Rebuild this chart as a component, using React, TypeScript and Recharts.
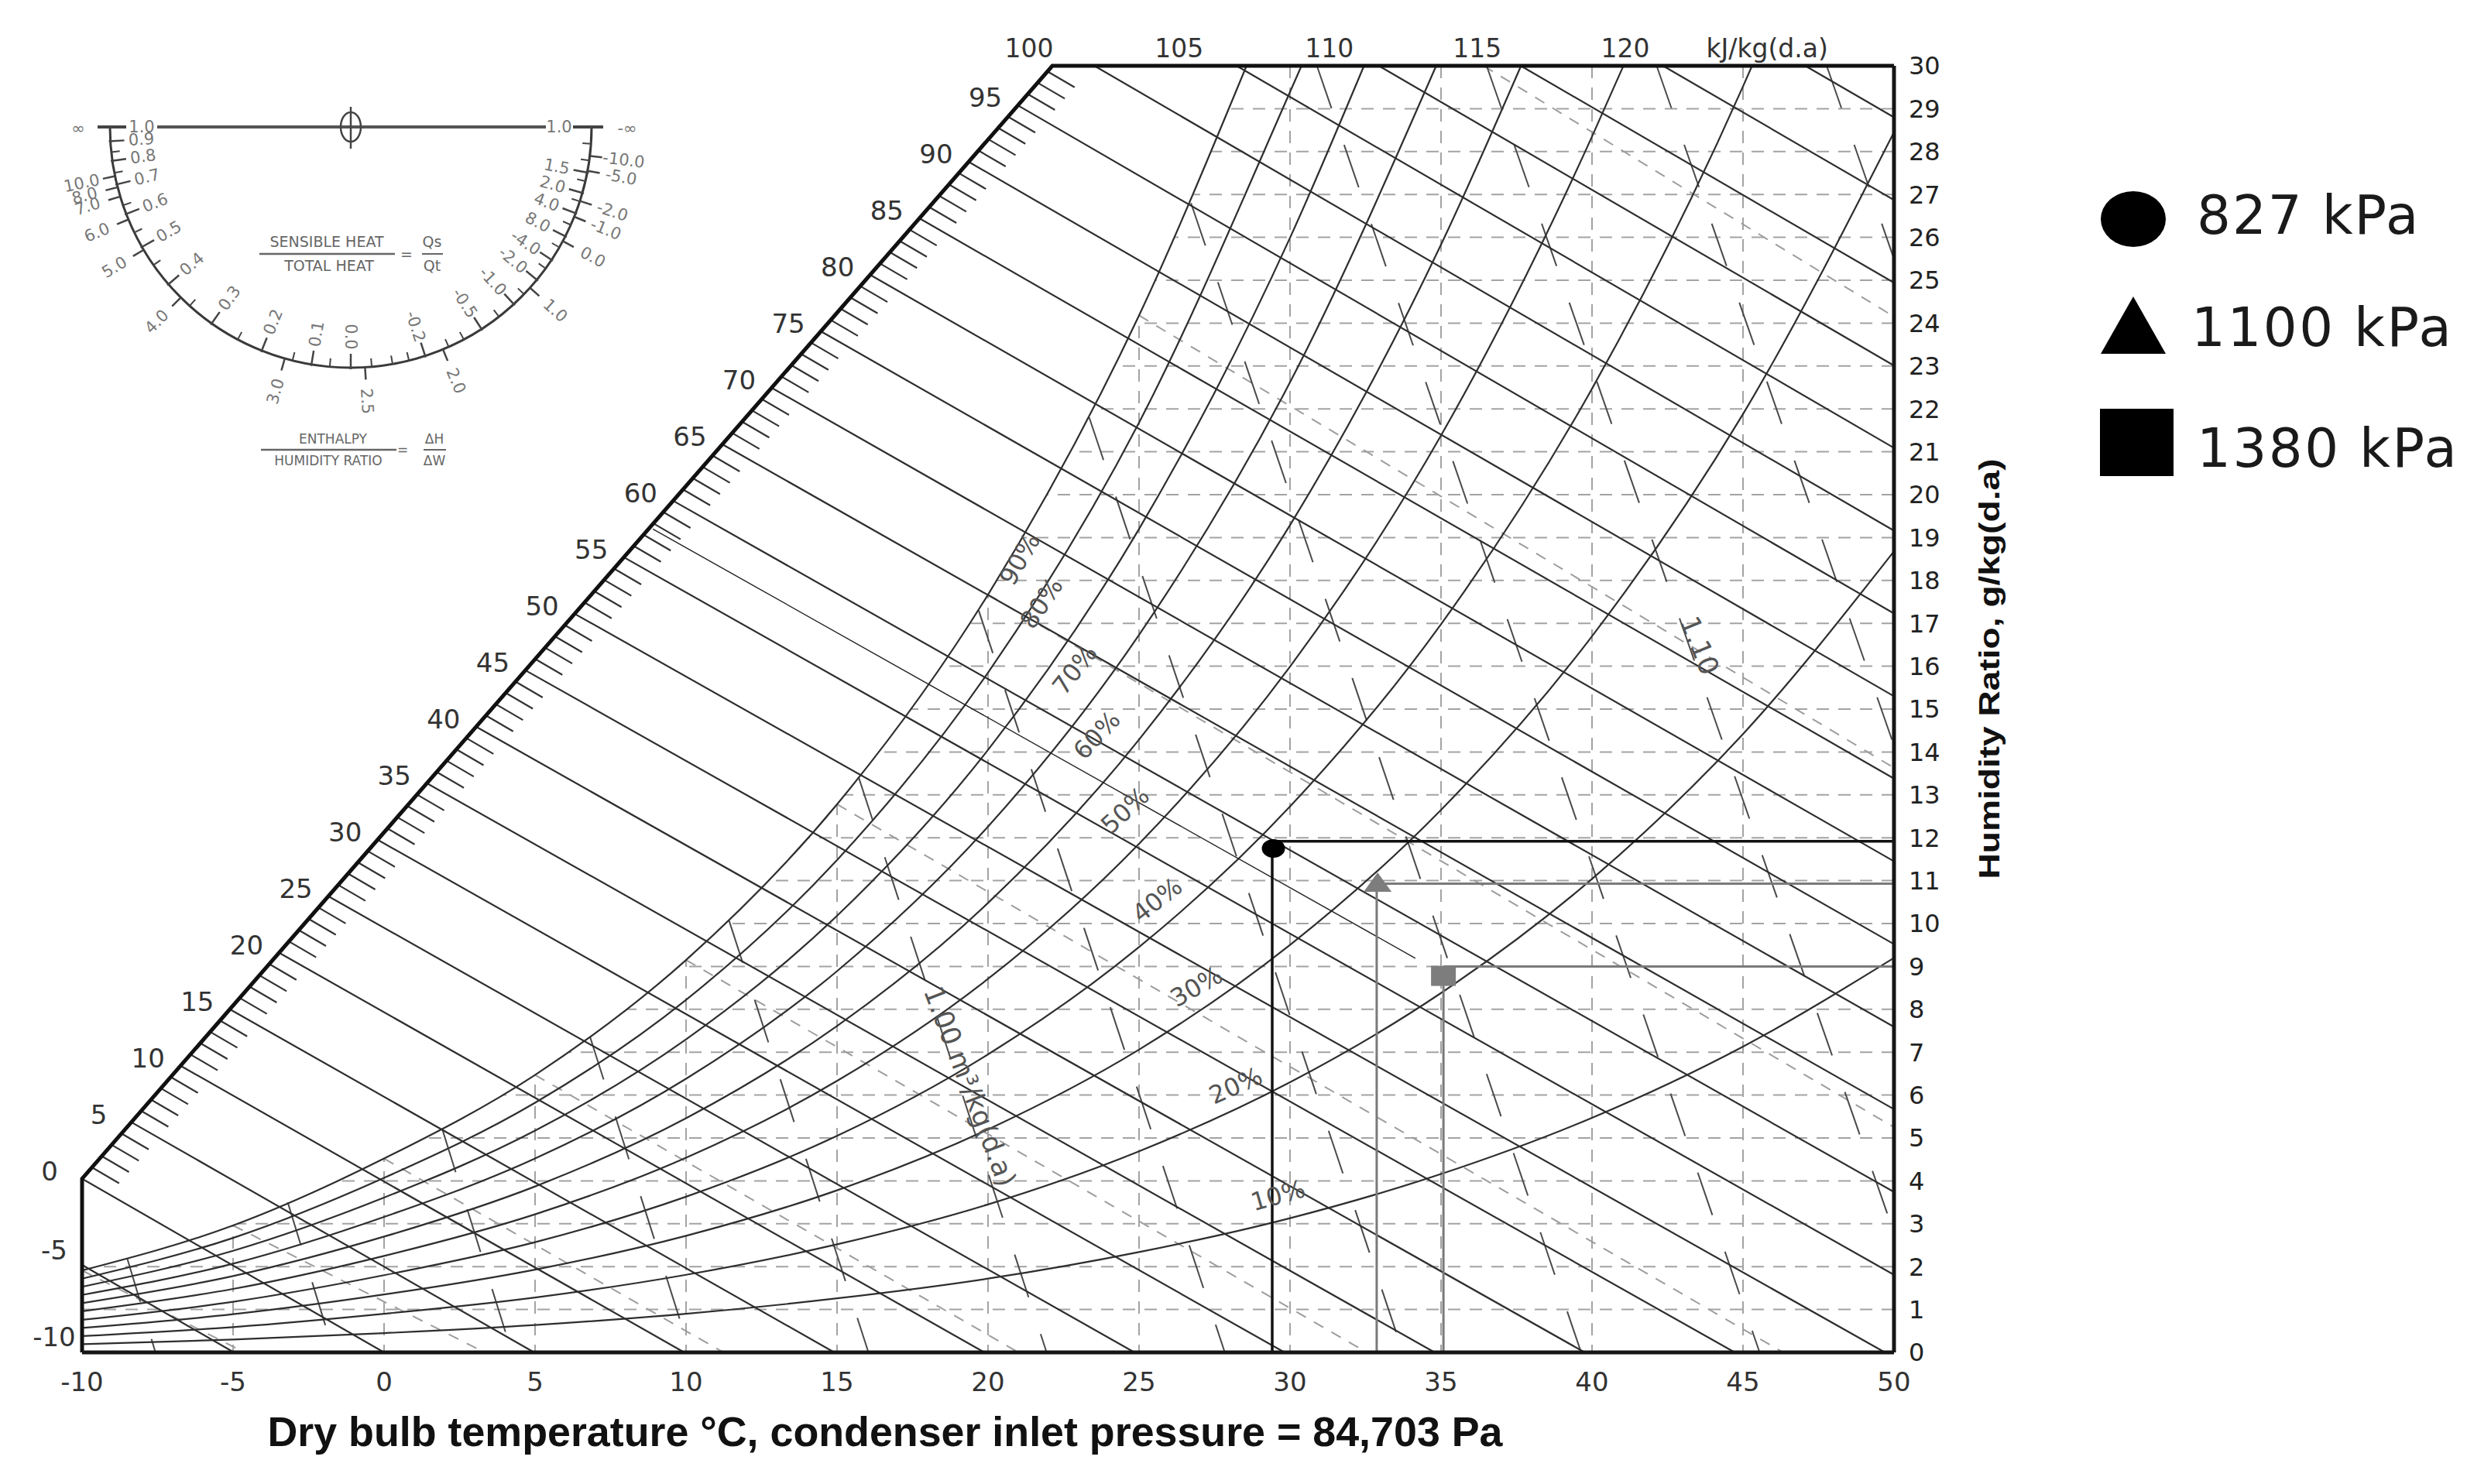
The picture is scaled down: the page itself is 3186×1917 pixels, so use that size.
import React from 'react';
import { ComposedChart, Line, Area, Scatter, XAxis, YAxis, CartesianGrid, Legend } from 'recharts';

type P = { t: number; w: number | null };

const FONT = "'DejaVu Sans', Verdana, sans-serif";
const TITLE_FONT = "'Liberation Sans Narrow', 'Liberation Sans', Arial, sans-serif";
const INK = '#2e2e2e';

// ---------- axes ----------
const xTicks = [-10, -5, 0, 5, 10, 15, 20, 25, 30, 35, 40, 45, 50];
const yTicks = [0, 1, 2, 3, 4, 5, 6, 7, 8, 9, 10, 11, 12, 13, 14, 15, 16, 17, 18, 19, 20, 21, 22, 23, 24, 25, 26, 27, 28, 29, 30];
const gridW = [1, 2, 3, 4, 5, 6, 7, 8, 9, 10, 11, 12, 13, 14, 15, 16, 17, 18, 19, 20, 21, 22, 23, 24, 25, 26, 27, 28, 29];
const gridT = [-5, 0, 5, 10, 15, 20, 25, 30, 35, 40, 45];

// ---------- relative humidity curves (g/kg at each dry-bulb temperature) ----------
const rhTemps = [-10, -5, 0, 5, 10, 15, 20, 25, 30, 35, 40, 45, 50];
const rh10 = [0.19, 0.30, 0.45, 0.64, 0.90, 1.26, 1.72, 2.34, 3.13, 4.16, 5.47, 7.13, 9.20];
const rh20 = [0.38, 0.59, 0.90, 1.28, 1.81, 2.52, 3.45, 4.69, 6.30, 8.38, 11.04, 14.42, 18.68];
const rh30 = [0.57, 0.89, 1.35, 1.93, 2.72, 3.78, 5.20, 7.06, 9.50, 12.65, 16.70, 21.88, 28.45];
const rh40 = [0.76, 1.18, 1.80, 2.57, 3.63, 5.05, 6.95, 9.45, 12.73, 16.98, 22.47, 29.52];
const rh50 = [0.96, 1.48, 2.25, 3.22, 4.54, 6.33, 8.71, 11.86, 15.99, 21.38, 28.35];
const rh60 = [1.15, 1.78, 2.70, 3.87, 5.46, 7.61, 10.48, 14.29, 19.29, 25.83];
const rh70 = [1.34, 2.07, 3.16, 4.52, 6.38, 8.89, 12.26, 16.73, 22.62];
const rh80 = [1.53, 2.37, 3.61, 5.17, 7.30, 10.18, 14.05, 19.20, 25.99];
const rh90 = [1.72, 2.67, 4.07, 5.82, 8.22, 11.48, 15.85, 21.68, 29.39];
const rh100 = [1.91, 2.96, 4.52, 6.47, 9.15, 12.78, 17.67, 24.18];
const rhSeries = [rh10, rh20, rh30, rh40, rh50, rh60, rh70, rh80, rh90, rh100];
const rhTopExitT = [null, null, null, 45.3, 41.04, 37.65, 34.84, 32.45, 30.38, 28.56];

const rhLabelText = ['10%', '20%', '30%', '40%', '50%', '60%', '70%', '80%', '90%'];
const rhLabelT = [29.6, 28.2, 26.9, 25.6, 24.54, 23.6, 22.87, 21.77, 21.05];
const rhLabelW = [3.66, 6.22, 8.53, 10.55, 12.64, 14.39, 15.92, 17.47, 18.5];
const rhLabelAngle = [-16, -24, -30, -38, -43, -47, -52, -56, -60];

// ---------- enthalpy lines (kJ/kg) ----------
const enthalpyLevels = [-5, 0, 5, 10, 15, 20, 25, 30, 35, 40, 45, 50, 55, 60, 65, 70, 75, 80, 85, 90, 95, 100, 105, 110, 115, 120, 125];
const enthalpyEndT = [-4.97, 0, 4.97, 9.94, 14.91, 19.88, 24.85, 29.82, 34.79, 39.76, 44.73, 49.7, 50, 50, 50, 50, 50, 50, 50, 50, 50, 50, 50, 50, 50, 50, 50];
const enthalpyEndW = [0, 0, 0, 0, 0, 0, 0, 0, 0, 0, 0, 0, 1.81, 3.74, 5.67, 7.59, 9.52, 11.45, 13.38, 15.3, 17.23, 19.16, 21.09, 23.01, 24.94, 26.87, 28.8];
const enthalpyTopStartT = [23.52, 28.23, 32.94, 37.64, 42.35, 47.06]; // h = 100..125 enter at 30 g/kg
const enthalpyLeftStartW = 2.04; // h = -5 on the -10 °C border
const diagFrom = { t: -10, w: 4.05, h: 0 };
const diagTo = { t: 22.13, w: 30, h: 98.5 };
const diagLabels = [0, 5, 10, 15, 20, 25, 30, 35, 40, 45, 50, 55, 60, 65, 70, 75, 80, 85, 90, 95];
const topLabelText = ['100', '105', '110', '115', '120', 'kJ/kg(d.a)'];
const topLabelT = [21.36, 26.33, 31.3, 36.2, 41.1, 45.8];
const leftLabelText = ['-5', '-10'];
const leftLabelW = [2.04, 0.02];
const thinLine = [{ t: 8.9, w: 19.2 }, { t: 34.15, w: 9.19 }];

// ---------- wet-bulb lines (dashed) ----------
const wbStartT = [-10, -5, 0, 5, 10, 15, 20, 25, 36.41];
const wbStartW = [1.91, 2.96, 4.52, 6.47, 9.15, 12.78, 17.67, 24.18, 30];
const wbEndT = [-4.62, 3.33, 11.24, 21.01, 32.54, 46.33, 50, 50, 50];
const wbEndW = [0, 0, 0, 0, 0, 0, 5.25, 13.63, 24.15];

// ---------- specific volume lines (m3/kg) ----------
const volStartT = [-8.5, -3.19, 1.93, 6.82, 11.42, 15.72, 19.69, 23.35, 26.72, 30.89, 36.51, 42.14, 47.77];
const volStartW = [2.18, 3.5, 5.2, 7.36, 10.08, 13.4, 17.3, 21.8, 26.8, 30, 30, 30, 30];
const volEndT = [-7.57, -1.67, 4.23, 10.14, 16.04, 21.94, 27.84, 33.74, 39.64, 45.55, 50, 50, 50];
const volEndW = [0, 0, 0, 0, 0, 0, 0, 0, 0, 0, 2.79, 14.15, 25.5];
const volLabelText = ['1.10', '1.00 m³/kg(d.a)'];
const volLabelT = [43.56, 19.4];
const volLabelW = [16.48, 6.2];
const volLabelAngle = [68, 69];

// ---------- operating points ----------
const pointLegend = ['827 kPa', '1100 kPa', '1380 kPa'];
const pointT = [29.45, 32.9, 35.08];
const pointW = [11.75, 10.94, 8.78];
const guideT = [29.41, 32.87, 35.08];
const guideW = [11.92, 10.93, 9.0];

// ---------- protractor ----------
const protInnerAngle = [176.6, 171.9, 166.2, 158.8, 150.1, 139.2, 125.3, 111.7, 99.4, 90, 72, 57.1, 47.4, 39.4, 33.5, 27, 21, 15.9, 10.9];
const protInnerText = ['0.9', '0.8', '0.7', '0.6', '0.5', '0.4', '0.3', '0.2', '0.1', '0.0', '-0.2', '-0.5', '-1.0', '-2.0', '-4.0', '8.0', '4.0', '2.0', '1.5'];
const protOuterAngle = [168.2, 165.5, 163.2, 157.4, 149.3, 134.9, 105.9, 86.6, 67.5, 41.9, 28.3, 21.9, 17.9, 10.5, 6.9];
const protOuterText = ['10.0', '8.0', '7.0', '6.0', '5.0', '4.0', '3.0', '2.5', '2.0', '1.0', '0.0', '-1.0', '-2.0', '-5.0', '-10.0'];
const protMinorAngle = [174, 169, 161, 154, 145, 132, 118, 104, 95, 85, 80, 76, 66, 62, 52, 44, 36, 30, 24, 18, 13, 8, 4];

// ---------- helpers ----------
const diagAt = (h: number): P => {
  const s = (h - diagFrom.h) / (diagTo.h - diagFrom.h);
  return { t: diagFrom.t + s * (diagTo.t - diagFrom.t), w: diagFrom.w + s * (diagTo.w - diagFrom.w) };
};
const broken = (segs: P[][]): P[] => {
  const out: P[] = [];
  segs.forEach((s) => {
    s.forEach((p) => out.push({ t: p.t, w: p.w }));
    out.push({ t: s[s.length - 1].t, w: null });
  });
  return out;
};

const rhData = rhSeries.map((vals, i) => {
  const pts: P[] = vals.map((w, j) => ({ t: rhTemps[j], w }));
  const ex = rhTopExitT[i];
  if (ex !== null) pts.push({ t: ex as number, w: 30 });
  return pts;
});
const maskData = rhData[9].map((p) => ({ t: p.t, band: [p.w, 30] }));

const enthalpyData = broken(
  enthalpyLevels.map((h, i) => {
    let start: P;
    if (h < 0) start = { t: -10, w: enthalpyLeftStartW };
    else if (h < 100) start = diagAt(h);
    else start = { t: enthalpyTopStartT[(h - 100) / 5], w: 30 };
    return [start, { t: enthalpyEndT[i], w: enthalpyEndW[i] }];
  })
);
const diagTickValues = Array.from({ length: 98 }, (_, i) => i + 1).filter((h) => h % 5 !== 0);
const tickDir = { t: 0.9, w: -0.37 };
const diagTickData = broken(
  diagTickValues.map((h) => {
    const p = diagAt(h);
    return [p, { t: p.t + tickDir.t, w: (p.w as number) + tickDir.w }];
  })
);
const frameData: P[] = [{ t: -10, w: 0 }, { t: -10, w: diagFrom.w }, { t: diagTo.t, w: 30 }, { t: 50, w: 30 }];
const wbData = broken(wbStartT.map((t, i) => [{ t, w: wbStartW[i] }, { t: wbEndT[i], w: wbEndW[i] }]));
const volData = broken(volStartT.map((t, i) => [{ t, w: volStartW[i] }, { t: volEndT[i], w: volEndW[i] }]));

const labelData: any[] = [
  ...diagLabels.map((h) => ({ ...diagAt(h), label: String(h), dx: -42, dy: -10, size: 34, fill: '#333' })),
  ...leftLabelText.map((l, i) => ({ t: -10, w: leftLabelW[i], label: l, dx: -36, dy: -19, size: 34, fill: '#333' })),
  ...topLabelText.map((l, i) => ({ t: topLabelT[i], w: 30, label: l, dx: 0, dy: -23, size: 33, fill: '#333' })),
  ...rhLabelText.map((l, i) => ({ t: rhLabelT[i], w: rhLabelW[i], label: l, angle: rhLabelAngle[i], size: 32, fill: '#555' })),
  ...volLabelText.map((l, i) => ({ t: volLabelT[i], w: volLabelW[i], label: l, angle: volLabelAngle[i], size: 35, fill: '#555' })),
];

const guideLines = [
  { color: '#111', width: 3.5, data: [{ t: guideT[0], w: 0 }, { t: guideT[0], w: pointW[0] }, { t: guideT[0], w: null }, { t: guideT[0], w: guideW[0] }, { t: 50, w: guideW[0] }] },
  { color: '#7a7a7a', width: 3, data: [{ t: guideT[1], w: 0 }, { t: guideT[1], w: pointW[1] }, { t: guideT[1], w: null }, { t: guideT[1], w: guideW[1] }, { t: 50, w: guideW[1] }] },
  { color: '#7a7a7a', width: 3, data: [{ t: guideT[2], w: 0 }, { t: guideT[2], w: pointW[2] }, { t: guideT[2], w: null }, { t: guideT[2], w: guideW[2] }, { t: 50, w: guideW[2] }] },
];
const markerData = pointT.map((t, i) => ({ t, w: pointW[i], kind: i }));

// ---------- shapes ----------
const TextShape = (props: any) => {
  const { cx, cy, payload } = props;
  if (cx == null || cy == null) return <g />;
  const x = cx + (payload.dx || 0);
  const y = cy + (payload.dy || 0);
  return (
    <text
      x={x}
      y={y}
      fontSize={payload.size}
      fill={payload.fill}
      fontFamily={FONT}
      textAnchor="middle"
      dominantBaseline="central"
      transform={payload.angle ? `rotate(${payload.angle} ${x} ${y})` : undefined}
    >
      {payload.label}
    </text>
  );
};

const MarkerShape = (props: any) => {
  const { cx, cy, payload } = props;
  if (payload.kind === 0) return <ellipse cx={cx} cy={cy} rx={15} ry={12} fill="#000" />;
  if (payload.kind === 1)
    return <polygon points={`${cx},${cy - 14} ${cx - 18},${cy + 11} ${cx + 18},${cy + 11}`} fill="#7d7d7d" />;
  return <rect x={cx - 16} y={cy - 13} width={32} height={26} fill="#7d7d7d" />;
};

const LegendBox = () => (
  <svg width={486} height={420}>
    <ellipse cx={55} cy={53} rx={42} ry={36} fill="#000" />
    <text x={137} y={72} fontSize={69} letterSpacing={2} fontFamily={FONT} fill="#1a1a1a">{pointLegend[0]}</text>
    <polygon points="55,153 13,227 97,227" fill="#000" />
    <text x={130} y={217} fontSize={69} letterSpacing={2.5} fontFamily={FONT} fill="#1a1a1a">{pointLegend[1]}</text>
    <rect x={12} y={298} width={95} height={87} fill="#000" />
    <text x={137} y={373} fontSize={69} letterSpacing={2.5} fontFamily={FONT} fill="#1a1a1a">{pointLegend[2]}</text>
  </svg>
);

const PC = { x: 453, y: 164, r: 311 };
const PFS = 21;
const polar = (a: number, r: number) => {
  const rad = (a * Math.PI) / 180;
  return { x: PC.x + r * Math.cos(rad), y: PC.y + r * Math.sin(rad) };
};
const rotFor = (a: number) => (a > 90 ? a - 180 : a);

const Protractor = () => (
  <g>
    <path d={`M ${PC.x - PC.r} ${PC.y} A ${PC.r} ${PC.r} 0 0 0 ${PC.x + PC.r} ${PC.y}`} fill="none" stroke="#3a3a3a" strokeWidth={3} />
    <line x1={126} y1={164} x2={163} y2={164} stroke="#444" strokeWidth={4} />
    <line x1={203} y1={164} x2={705} y2={164} stroke="#555" strokeWidth={4} />
    <line x1={740} y1={164} x2={779} y2={164} stroke="#444" strokeWidth={4} />
    <ellipse cx={PC.x} cy={PC.y} rx={13} ry={19} fill="none" stroke="#444" strokeWidth={2.5} />
    <line x1={PC.x} y1={138} x2={PC.x} y2={192} stroke="#444" strokeWidth={2.5} />
    <text x={183} y={164} fontSize={PFS} fill="#777" fontFamily={FONT} textAnchor="middle" dominantBaseline="central">1.0</text>
    <text x={722} y={164} fontSize={PFS} fill="#777" fontFamily={FONT} textAnchor="middle" dominantBaseline="central">1.0</text>
    <text x={101} y={166} fontSize={PFS} fill="#777" fontFamily={FONT} textAnchor="middle" dominantBaseline="central">∞</text>
    <text x={810} y={166} fontSize={PFS} fill="#777" fontFamily={FONT} textAnchor="middle" dominantBaseline="central">-∞</text>
    {protMinorAngle.map((a, i) => {
      const p1 = polar(a, PC.r);
      const p2 = polar(a, PC.r - 11);
      return <line key={'m' + i} x1={p1.x} y1={p1.y} x2={p2.x} y2={p2.y} stroke="#444" strokeWidth={2} />;
    })}
    {protInnerAngle.map((a, i) => {
      const p1 = polar(a, PC.r + 2);
      const p2 = polar(a, PC.r - 18);
      const pl = polar(a, PC.r - 40);
      return (
        <g key={'i' + i}>
          <line x1={p1.x} y1={p1.y} x2={p2.x} y2={p2.y} stroke="#444" strokeWidth={2.5} />
          <text x={pl.x} y={pl.y} fontSize={PFS} fill="#777" fontFamily={FONT} textAnchor="middle" dominantBaseline="central" transform={`rotate(${rotFor(a)} ${pl.x} ${pl.y})`}>
            {protInnerText[i]}
          </text>
        </g>
      );
    })}
    {protOuterAngle.map((a, i) => {
      const p1 = polar(a, PC.r);
      const p2 = polar(a, PC.r + 16);
      const pl = polar(a, PC.r + 44);
      return (
        <g key={'o' + i}>
          <line x1={p1.x} y1={p1.y} x2={p2.x} y2={p2.y} stroke="#444" strokeWidth={2.5} />
          <text x={pl.x} y={pl.y} fontSize={PFS} fill="#777" fontFamily={FONT} textAnchor="middle" dominantBaseline="central" transform={`rotate(${rotFor(a)} ${pl.x} ${pl.y})`}>
            {protOuterText[i]}
          </text>
        </g>
      );
    })}
    <text x={422} y={319} fontSize={19} fill="#666" fontFamily={FONT} textAnchor="middle">SENSIBLE HEAT</text>
    <line x1={335} y1={328} x2={510} y2={328} stroke="#666" strokeWidth={2.5} />
    <text x={425} y={350} fontSize={19} fill="#666" fontFamily={FONT} textAnchor="middle">TOTAL HEAT</text>
    <text x={525} y={335} fontSize={19} fill="#666" fontFamily={FONT} textAnchor="middle">=</text>
    <text x={558} y={319} fontSize={19} fill="#666" fontFamily={FONT} textAnchor="middle">Qs</text>
    <line x1={545} y1={328} x2={572} y2={328} stroke="#666" strokeWidth={2} />
    <text x={558} y={350} fontSize={19} fill="#666" fontFamily={FONT} textAnchor="middle">Qt</text>
    <text x={430} y={573} fontSize={17} fill="#666" fontFamily={FONT} textAnchor="middle">ENTHALPY</text>
    <line x1={337} y1={581} x2={512} y2={581} stroke="#666" strokeWidth={2.5} />
    <text x={424} y={601} fontSize={17} fill="#666" fontFamily={FONT} textAnchor="middle">HUMIDITY RATIO</text>
    <text x={520} y={587} fontSize={17} fill="#666" fontFamily={FONT} textAnchor="middle">=</text>
    <text x={561} y={573} fontSize={17} fill="#666" fontFamily={FONT} textAnchor="middle">ΔH</text>
    <line x1={547} y1={581} x2={576} y2={581} stroke="#666" strokeWidth={2} />
    <text x={561} y={601} fontSize={17} fill="#666" fontFamily={FONT} textAnchor="middle">ΔW</text>
  </g>
);

const Titles = () => (
  <g>
    <text x={1143} y={1868} fontSize={54} fontWeight="bold" fill="#111" fontFamily={TITLE_FONT} textAnchor="middle" textLength={1595} lengthAdjust="spacingAndGlyphs">
      Dry bulb temperature °C, condenser inlet  pressure  = 84,703 Pa
    </text>
    <text x={2582} y={864} fontSize={36} fontWeight="bold" fill="#111" fontFamily={TITLE_FONT} textAnchor="middle" textLength={543} lengthAdjust="spacingAndGlyphs" transform="rotate(-90 2582 864)">
      Humidity Ratio, g/kg(d.a)
    </text>
  </g>
);

export default function App() {
  return (
    <div style={{ position: 'absolute', left: 0, top: 0, width: 3186, height: 1917, background: '#fff' }}>
      <ComposedChart width={3186} height={1917} margin={{ top: 85, left: 106, right: 640, bottom: 110 }}>
        <CartesianGrid stroke="#a3a3a3" strokeWidth={2} strokeDasharray="16 12" horizontalValues={gridW} verticalValues={gridT} />
        <XAxis
          type="number"
          dataKey="t"
          domain={[-10, 50]}
          ticks={xTicks}
          height={60}
          tickLine={false}
          tickMargin={20}
          axisLine={{ stroke: '#151515', strokeWidth: 5 }}
          tick={{ fontSize: 34, fill: '#333', fontFamily: FONT }}
          interval={0}
        />
        <YAxis
          type="number"
          dataKey="w"
          orientation="right"
          domain={[0, 30]}
          ticks={yTicks}
          width={100}
          tickLine={false}
          tickMargin={13}
          axisLine={{ stroke: '#151515', strokeWidth: 5 }}
          tick={{ fontSize: 32, fill: '#222', fontFamily: FONT, textAnchor: 'start' }}
          interval={0}
        />
        <Area data={maskData} dataKey="band" type="monotone" fill="#ffffff" fillOpacity={1} stroke="none" isAnimationActive={false} legendType="none" />
        <Line data={wbData} dataKey="w" type="linear" stroke="#9d9d9d" strokeWidth={2} strokeDasharray="14 12" dot={false} activeDot={false} isAnimationActive={false} legendType="none" />
        <Line data={volData} dataKey="w" type="linear" stroke="#4a4a4a" strokeWidth={2} strokeDasharray="58 50" dot={false} activeDot={false} isAnimationActive={false} legendType="none" />
        {rhData.map((d, i) => (
          <Line key={'rh' + i} data={d} dataKey="w" type="monotone" stroke={INK} strokeWidth={2.2} dot={false} activeDot={false} isAnimationActive={false} legendType="none" />
        ))}
        <Line data={enthalpyData} dataKey="w" type="linear" stroke={INK} strokeWidth={2.2} dot={false} activeDot={false} isAnimationActive={false} legendType="none" />
        <Line data={thinLine} dataKey="w" type="linear" stroke="#222" strokeWidth={1.4} dot={false} activeDot={false} isAnimationActive={false} legendType="none" />
        <Line data={diagTickData} dataKey="w" type="linear" stroke="#333" strokeWidth={2.2} dot={false} activeDot={false} isAnimationActive={false} legendType="none" />
        <Line data={frameData} dataKey="w" type="linear" stroke="#111" strokeWidth={5} dot={false} activeDot={false} isAnimationActive={false} legendType="none" />
        {guideLines.map((g, i) => (
          <Line key={'g' + i} data={g.data} dataKey="w" type="linear" stroke={g.color} strokeWidth={g.width} dot={false} activeDot={false} isAnimationActive={false} legendType="none" />
        ))}
        <Scatter data={markerData} dataKey="w" shape={MarkerShape} isAnimationActive={false} legendType="none" />
        <Scatter data={labelData} dataKey="w" shape={TextShape} isAnimationActive={false} legendType="none" />
        <Legend
          layout="vertical"
          align="center"
          verticalAlign="middle"
          wrapperStyle={{ position: 'absolute', left: 2700, top: 230, width: 486, height: 420 }}
          content={() => <LegendBox />}
        />
      </ComposedChart>
      <svg width={3186} height={1917} style={{ position: 'absolute', left: 0, top: 0, pointerEvents: 'none' }}>
        <Protractor />
        <Titles />
      </svg>
    </div>
  );
}
